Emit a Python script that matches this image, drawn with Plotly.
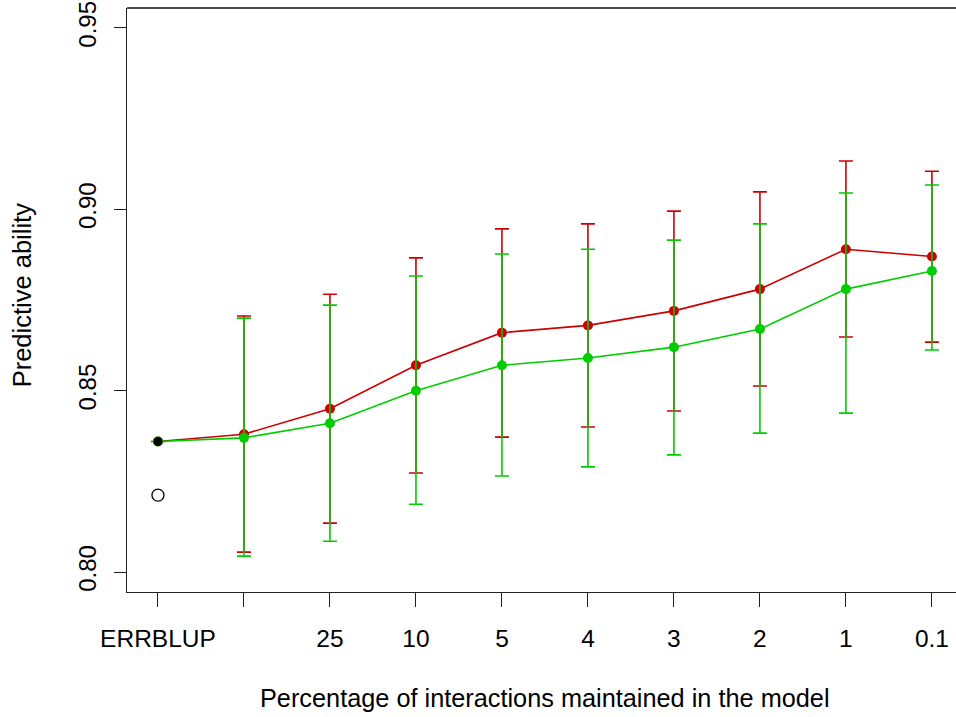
import plotly.graph_objects as go

x_pos = [1, 2, 3, 4, 5, 6, 7, 8, 9, 10]
tick_labels = ["ERRBLUP", "", "25", "10", "5", "4", "3", "2", "1", "0.1"]

red_mean = [0.836, 0.838, 0.845, 0.857, 0.866, 0.868, 0.872, 0.878, 0.889, 0.887]
red_upper = [None, 0.8706, 0.8766, 0.8866, 0.8946, 0.8960, 0.8995, 0.9048, 0.9133, 0.9105]
red_lower = [None, 0.8055, 0.8135, 0.8273, 0.8372, 0.8400, 0.8444, 0.8513, 0.8648, 0.8634]

green_mean = [0.836, 0.837, 0.841, 0.850, 0.857, 0.859, 0.862, 0.867, 0.878, 0.883]
green_upper = [None, 0.8700, 0.8736, 0.8816, 0.8877, 0.8890, 0.8915, 0.8960, 0.9045, 0.9067]
green_lower = [None, 0.8044, 0.8085, 0.8187, 0.8265, 0.8290, 0.8323, 0.8383, 0.8438, 0.8612]

errblup_filled = 0.836
errblup_open = 0.8212

y_ticks = [0.80, 0.85, 0.90, 0.95]

RED = "#CD0000"
GREEN = "#00CD00"
FONT = "Liberation Sans, Arial, sans-serif"


def err(mean, upper, lower):
    plus = [0 if u is None else u - m for m, u in zip(mean, upper)]
    minus = [0 if l is None else m - l for m, l in zip(mean, lower)]
    return plus, minus


fig = go.Figure()

for mean, up, lo, col in [(red_mean, red_upper, red_lower, RED),
                          (green_mean, green_upper, green_lower, GREEN)]:
    p, m = err(mean, up, lo)
    fig.add_trace(go.Scatter(
        x=x_pos, y=mean, mode="lines+markers",
        line=dict(color=col, width=1.6),
        marker=dict(color=col, size=10),
        error_y=dict(type="data", symmetric=False, array=p, arrayminus=m,
                     color=col, thickness=1.6, width=7),
        showlegend=False, hoverinfo="skip",
    ))

fig.add_trace(go.Scatter(
    x=[x_pos[0]], y=[errblup_filled], mode="markers",
    marker=dict(color="black", size=9), showlegend=False, hoverinfo="skip"))
fig.add_trace(go.Scatter(
    x=[x_pos[0]], y=[errblup_open], mode="markers",
    marker=dict(color="white", size=12, symbol="circle",
                line=dict(color="black", width=1.3)),
    showlegend=False, hoverinfo="skip"))

fig.update_layout(
    width=956, height=717,
    margin=dict(l=127, r=0, t=8, b=125),
    paper_bgcolor="white", plot_bgcolor="white",
    font=dict(family=FONT, size=24, color="black"),
    xaxis=dict(range=[0.64, 10.28], tickvals=x_pos, ticktext=tick_labels,
               ticks="outside", ticklen=14, tickwidth=1.2, tickcolor="#222",
               showline=True, linecolor="#222", linewidth=1.2,
               showgrid=False, zeroline=False, ticklabelstandoff=10,
               tickfont=dict(size=24.5)),
    yaxis=dict(range=[0.7945, 0.9555], tickvals=y_ticks,
               ticktext=[f"{v:.2f}" for v in y_ticks],
               ticks="outside", ticklen=12, tickwidth=1.2, tickcolor="#222",
               showline=True, linecolor="#222", linewidth=1.2,
               showgrid=False, zeroline=False, tickangle=-90,
               ticklabelstandoff=8, tickfont=dict(size=24)),
    shapes=[dict(type="line", xref="paper", yref="paper", x0=0, x1=1, y0=1, y1=1,
                 line=dict(color="#111", width=1.5))],
    annotations=[
        dict(text="Percentage of interactions maintained in the model",
             xref="paper", yref="paper", x=0.504, y=0, xanchor="center",
             yanchor="middle", yshift=-106, showarrow=False,
             font=dict(size=25.3)),
        dict(text="Predictive ability", xref="paper", yref="paper", x=0, y=0.508,
             xanchor="center", yanchor="middle", xshift=-105, textangle=-90,
             showarrow=False, font=dict(size=25.5)),
    ],
)

fig.write_html("out.html")
